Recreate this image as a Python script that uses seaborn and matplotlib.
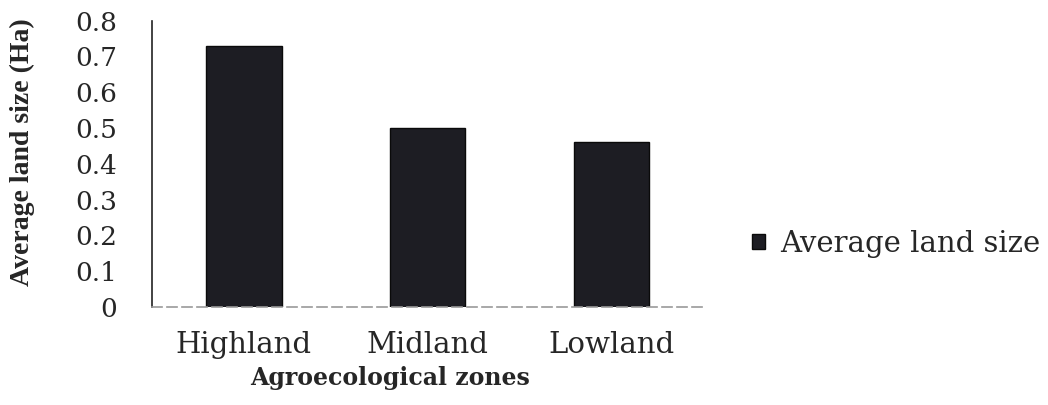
import matplotlib
matplotlib.use("Agg")
import matplotlib.pyplot as plt
import seaborn as sns
import pandas as pd

zones = ["Highland", "Midland", "Lowland"]
land_size = [0.73, 0.50, 0.46]
y_ticks = [0, 0.1, 0.2, 0.3, 0.4, 0.5, 0.6, 0.7, 0.8]
y_tick_labels = ["0", "0.1", "0.2", "0.3", "0.4", "0.5", "0.6", "0.7", "0.8"]
series_name = "Average land size"

sns.set_style("white")
plt.rcParams["font.family"] = ["DejaVu Serif"]

df = pd.DataFrame({"zone": zones, "size": land_size, "series": series_name})

fig = plt.figure(figsize=(10.48, 4.05), dpi=100)
ax = fig.add_axes([0.145, 0.242, 0.526, 0.707])

sns.barplot(data=df, x="zone", y="size", hue="series", palette=["#1c1c24"],
            width=0.41, edgecolor="#0a0a0a", linewidth=1.0, ax=ax, legend=True)

ax.set_xlim(-0.5, 2.5)
ax.set_ylim(0, 0.8)
ax.set_yticks(y_ticks)
ax.set_yticklabels(y_tick_labels, fontsize=19)
ax.tick_params(axis="y", direction="out", length=7, width=1, color="#555555", pad=18)

ax.set_xticks(range(len(zones)))
ax.set_xticklabels(zones, fontsize=21)
ax.tick_params(axis="x", which="major", length=0, pad=17)
ax.set_xticks([-0.5, 0.5, 1.5, 2.5], minor=True)
ax.tick_params(axis="x", which="minor", direction="out", length=6, width=1.5, color="#333333")

for s in ["top", "right"]:
    ax.spines[s].set_visible(False)
ax.spines["left"].set_color("#222222")
ax.spines["left"].set_linewidth(1.2)
ax.spines["bottom"].set_color("#999999")
ax.spines["bottom"].set_linewidth(1.2)
ax.spines["bottom"].set_linestyle((0, (6, 3)))

ax.set_ylabel("Average land size (Ha)", fontsize=20, fontweight="bold",
              family="Liberation Serif")
ax.yaxis.set_label_coords(-0.212, 0.54)
ax.set_xlabel("Agroecological zones", fontsize=17, fontweight="bold")
ax.xaxis.set_label_coords(0.432, -0.205)

handles, labels = ax.get_legend_handles_labels()
ax.legend(handles, labels, loc="center left", bbox_to_anchor=(1.089, 0.22),
          frameon=False, fontsize=21, handlelength=0.45, handleheight=0.4,
          handletextpad=0.5, borderpad=0, borderaxespad=0)

fig.savefig("out.png", dpi=100)
